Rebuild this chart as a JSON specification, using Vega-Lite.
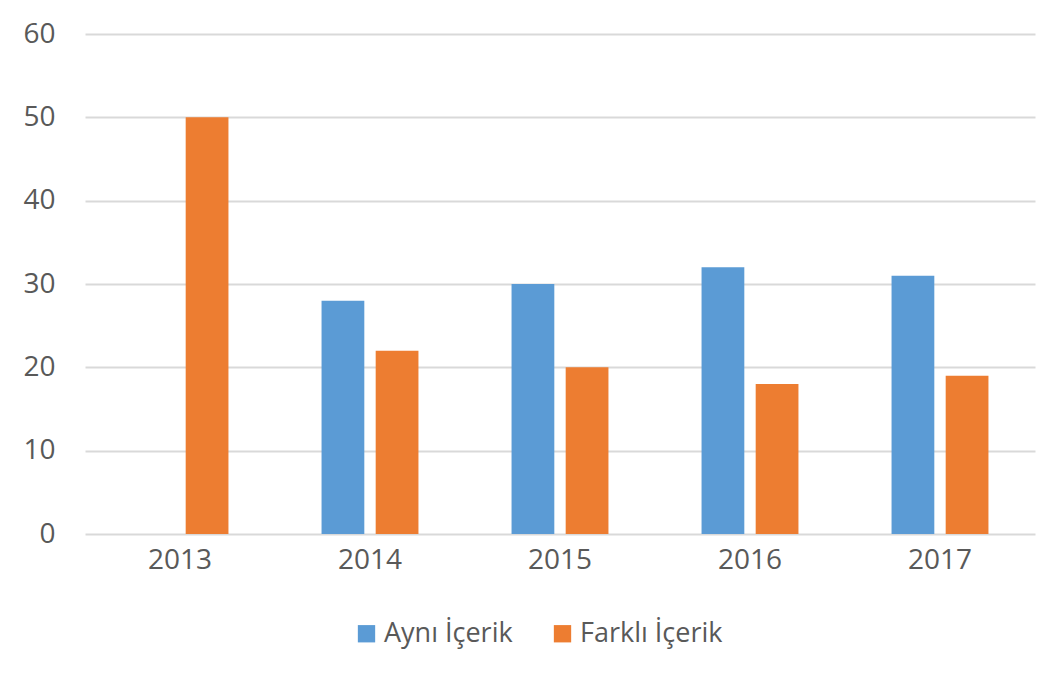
{
  "$schema": "https://vega.github.io/schema/vega-lite/v6.json",
  "width": 950,
  "height": 500,
  "autosize": "none",
  "padding": {"left": 85, "top": 34, "right": 24, "bottom": 148},
  "background": "white",
  "config": {
    "view": {"stroke": null},
    "font": "Open Sans"
  },
  "data": {
    "values": [
      {"year": "2013", "series": "Aynı İçerik", "value": 0},
      {"year": "2013", "series": "Farklı İçerik", "value": 50},
      {"year": "2014", "series": "Aynı İçerik", "value": 28},
      {"year": "2014", "series": "Farklı İçerik", "value": 22},
      {"year": "2015", "series": "Aynı İçerik", "value": 30},
      {"year": "2015", "series": "Farklı İçerik", "value": 20},
      {"year": "2016", "series": "Aynı İçerik", "value": 32},
      {"year": "2016", "series": "Farklı İçerik", "value": 18},
      {"year": "2017", "series": "Aynı İçerik", "value": 31},
      {"year": "2017", "series": "Farklı İçerik", "value": 19}
    ]
  },
  "mark": {"type": "bar"},
  "encoding": {
    "x": {
      "field": "year",
      "type": "nominal",
      "scale": {"paddingInner": 0.49, "paddingOuter": 0.245},
      "axis": {
        "title": null,
        "labelAngle": 0,
        "ticks": false,
        "domain": false,
        "labelPadding": 12,
        "labelFontSize": 28,
        "labelColor": "#595959",
        "labelFont": "Open Sans"
      }
    },
    "xOffset": {
      "field": "series",
      "type": "nominal",
      "sort": ["Aynı İçerik", "Farklı İçerik"],
      "scale": {"paddingInner": 0.21, "paddingOuter": 0}
    },
    "y": {
      "field": "value",
      "type": "quantitative",
      "scale": {"domain": [0, 60]},
      "axis": {
        "title": null,
        "values": [0, 10, 20, 30, 40, 50, 60],
        "domain": false,
        "ticks": false,
        "labelPadding": 30,
        "labelFontSize": 28,
        "labelColor": "#595959",
        "labelFont": "Open Sans",
        "gridColor": "#D9D9D9",
        "gridWidth": 2
      }
    },
    "color": {
      "field": "series",
      "type": "nominal",
      "scale": {"domain": ["Aynı İçerik", "Farklı İçerik"], "range": ["#5B9BD5", "#ED7D31"]},
      "legend": {
        "title": null,
        "orient": "none",
        "direction": "horizontal",
        "legendX": 268,
        "legendY": 586,
        "symbolType": "square",
        "symbolSize": 300,
        "symbolStrokeWidth": 0,
        "labelFontSize": 27,
        "labelColor": "#595959",
        "labelFont": "Open Sans",
        "columnPadding": 36,
        "labelOffset": 4
      }
    }
  }
}
